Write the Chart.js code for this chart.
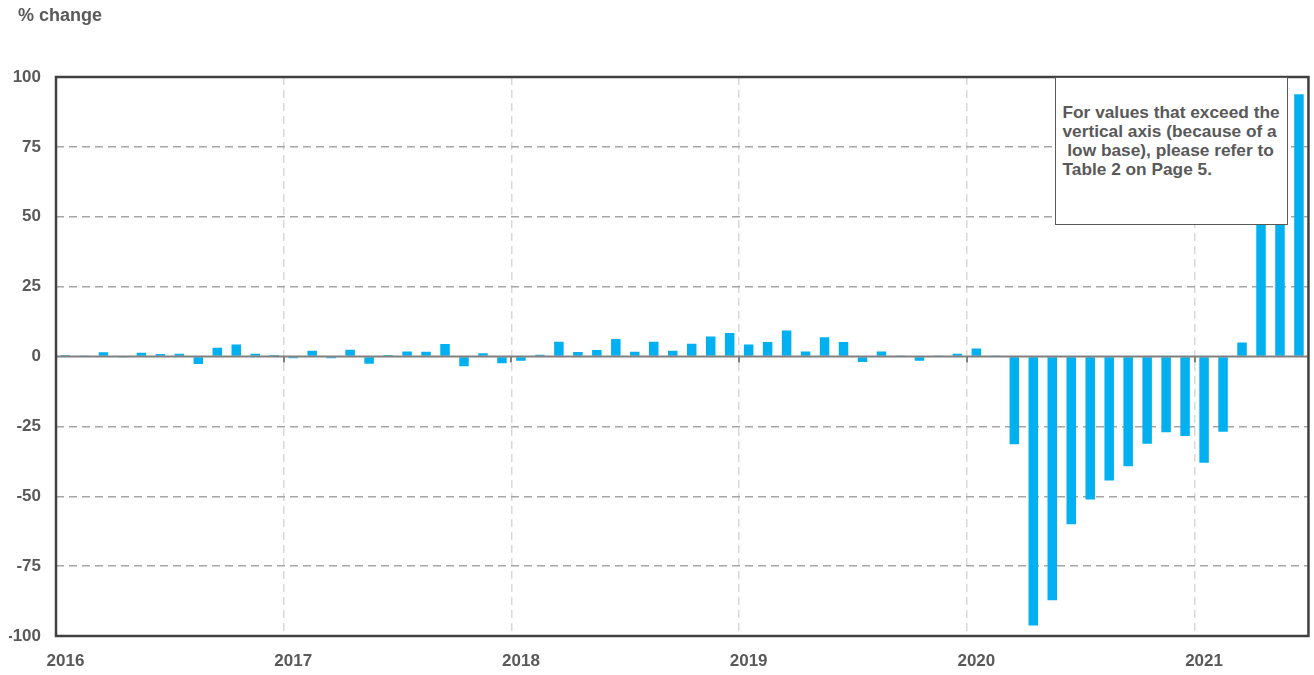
<!DOCTYPE html>
<html>
<head>
<meta charset="utf-8">
<script src="https://cdn.jsdelivr.net/npm/chart.js@4/dist/chart.umd.min.js"></script>
<style>
  html, body { margin: 0; padding: 0; background: #fff; }
  #wrap { position: relative; width: 1314px; height: 675px; font-family: Arial, "Liberation Sans", sans-serif; }
  #title { position: absolute; left: 18px; top: 6px; font-size: 18px; line-height: 18px; font-weight: bold; color: #595959; }
  #note {
    position: absolute; left: 1055px; top: 77px; width: 233px; height: 148px;
    box-sizing: border-box; border: 1.5px solid #595959; background: #fff;
    padding: 25px 0 0 6.5px; font-size: 17.3px; line-height: 19px; font-weight: bold; color: #595959;
    white-space: pre;
  }
</style>
</head>
<body>
<div id="wrap">
  <canvas id="myChart" width="1314" height="675"></canvas>
  <div id="title">% change</div>
  <div id="note">For values that exceed the
vertical axis (because of a
 low base), please refer to
Table 2 on Page 5.</div>
</div>
<script>
// monthly % change, Jan 2016 - Jun 2021
const monthNames = ["Jan", "Feb", "Mar", "Apr", "May", "Jun", "Jul", "Aug", "Sep", "Oct", "Nov", "Dec"];
const yearLabels = ["2016", "2017", "2018", "2019", "2020", "2021"];

const values2016 = [0.5, 0.2, 1.5, -0.4, 1.3, 0.9, 1.0, -2.7, 3.1, 4.3, 1.0, 0.5];
const values2017 = [-0.6, 2.1, -0.6, 2.4, -2.6, 0.5, 1.8, 1.7, 4.5, -3.5, 1.2, -2.4];
const values2018 = [-1.5, 0.6, 5.3, 1.6, 2.3, 6.3, 1.7, 5.3, 2.1, 4.6, 7.2, 8.4];
const values2019 = [4.3, 5.2, 9.3, 1.8, 6.9, 5.2, -2.0, 1.8, 0.1, -1.5, 0.4, 1.0];
const values2020 = [2.9, 0.4, -31.4, -96.2, -87.2, -60.0, -51.2, -44.4, -39.3, -31.2, -27.1, -28.4];
const values2021 = [-38.0, -26.9, 5.0, 150, 130, 93.8]; // Apr, May go off the axis

const yTicks = [-100, -75, -50, -25, 0, 25, 50, 75, 100];

const values = [].concat(values2016, values2017, values2018, values2019, values2020, values2021);
const categories = yearLabels.flatMap(y => monthNames.map(m => m + " " + y)).slice(0, values.length);

const textColor = "#595959";
const tickFont = { family: "Arial, 'Liberation Sans'", size: 17, weight: "bold" };

// frame round the plot area, zero line and its small year ticks
const framePlugin = {
  id: "frame",
  afterDatasetsDraw(chart) {
    const { ctx, chartArea: a, scales: { x, y } } = chart;
    const y0 = y.getPixelForValue(0);
    const step = x.getPixelForValue(1) - x.getPixelForValue(0);
    ctx.save();
    ctx.strokeStyle = "#808080";
    ctx.lineWidth = 2;
    ctx.beginPath();
    ctx.moveTo(a.left, y0);
    ctx.lineTo(a.right, y0);
    for (let i = 12; i < categories.length; i += 12) {
      const px = Math.round(x.getPixelForValue(i) - step / 2);
      ctx.moveTo(px, y0);
      ctx.lineTo(px, y0 + 6);
    }
    ctx.stroke();
    ctx.strokeStyle = "#404040";
    ctx.lineWidth = 2.5;
    ctx.strokeRect(a.left, a.top, a.right - a.left, a.bottom - a.top);
    ctx.restore();
  }
};

new Chart(document.getElementById("myChart"), {
  type: "bar",
  data: {
    labels: categories,
    datasets: [{
      data: values,
      backgroundColor: "#00B0F0",
      categoryPercentage: 1.0,
      barPercentage: 0.5,
    }],
  },
  options: {
    responsive: false,
    animation: false,
    layout: { padding: { left: 9, right: 5, top: 77, bottom: 5 } },
    plugins: {
      legend: { display: false },
      tooltip: { enabled: false },
    },
    scales: {
      x: {
        afterFit: (axis) => { axis.height = 34; },
        grid: {
          offset: true,
          drawTicks: false,
          color: (ctx) => (ctx.index > 0 && ctx.index % 12 === 0 ? "#d9d9d9" : "transparent"),
          lineWidth: 1.5,
        },
        border: { display: false, dash: [8, 5] },
        ticks: {
          autoSkip: false,
          maxRotation: 0,
          padding: 15,
          color: textColor,
          font: tickFont,
          callback: (val, i) => (i % 12 === 0 ? yearLabels[i / 12] : ""),
        },
      },
      y: {
        min: -100,
        max: 100,
        afterFit: (axis) => { axis.width = 47; },
        afterBuildTicks: (axis) => { axis.ticks = yTicks.map(v => ({ value: v })); },
        grid: {
          drawTicks: false,
          color: (ctx) => (ctx.tick && (ctx.tick.value === 0 || Math.abs(ctx.tick.value) === 100) ? "transparent" : "#a6a6a6"),
          lineWidth: 1.5,
        },
        border: { display: false, dash: [8, 5] },
        ticks: {
          padding: 15,
          color: textColor,
          font: tickFont,
        },
      },
    },
  },
  plugins: [framePlugin],
});
</script>
</body>
</html>
